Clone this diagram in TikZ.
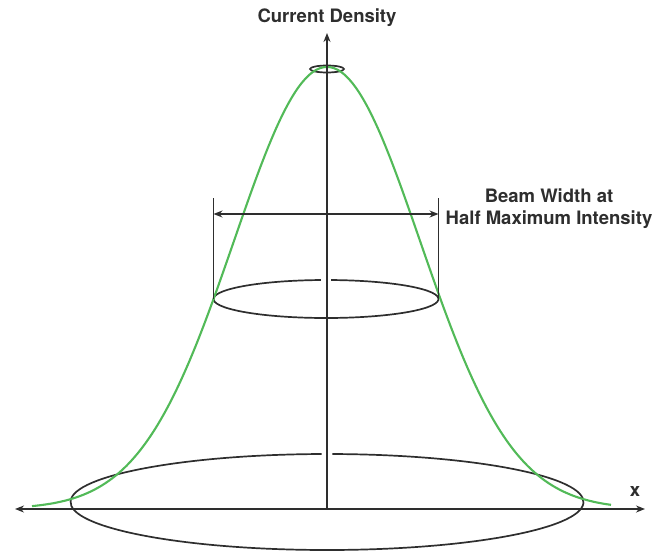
\documentclass[tikz,border=0pt]{standalone}
\usepackage{fontspec}
\setmainfont{TeX Gyre Heros}
\usetikzlibrary{arrows.meta,calc}
\definecolor{beamgreen}{HTML}{52BA58}
\definecolor{inkgray}{HTML}{2E2E2E}

\begin{document}
\begin{tikzpicture}[x=1pt, y=-1pt,
  axis/.style={draw=inkgray, line width=1.4pt},
  rim/.style={draw=inkgray, line width=1.7pt},
  beam/.style={draw=beamgreen, line width=2.1pt},
  tip/.style={-{Stealth[length=9pt, width=7pt]}},
  lab/.style={font=\fontsize{18.5}{22}\selectfont\bfseries, text=inkgray,
    inner sep=0pt, align=center}]
\useasboundingbox (0,0) rectangle (663,551);
% ---------------- axes ----------------
\coordinate (O) at (327,509);
\coordinate (ytip) at (327,33);
\coordinate (xl) at (15,509);
\coordinate (xr) at (645,509);
\node[lab] (ylab) at (327,18) {Current Density};
\node[lab] (xlab) at (635,491) {x};
% ---------------- cross sections ----------------
% back edge of each ring is broken where the axis passes
\coordinate (topc) at (327,69);
\coordinate (midc) at (326,299);
\coordinate (lowc) at (327,502);
\draw[rim] (topc) ellipse[x radius=17, y radius=3.5];
\draw[rim] ($(midc)+(272.6:112.5 and 19)$)
  arc[start angle=272.6, end angle=627.4, x radius=112.5, y radius=19];
\draw[rim] ($(lowc)+(271.2:256.5 and 48)$)
  arc[start angle=271.2, end angle=628.8, x radius=256.5, y radius=48];
% ---------------- beam profile ----------------
\draw[beam] plot[domain=-295:284, samples=160, smooth]
  ({327+\x},{509-442*exp(-0.5*(\x/93)^2)});
\draw[axis, tip] (O) -- (ytip);
\draw[axis, {Stealth[length=9pt, width=7pt]}-{Stealth[length=9pt, width=7pt]}]
  (xl) -- (xr);
% ---------------- beam width ----------------
\coordinate (wlt) at (213.5,198);
\coordinate (wlb) at (213.5,299);
\coordinate (wrt) at (438.5,198);
\coordinate (wrb) at (438.5,299);
\coordinate (wla) at (213.5,214);
\coordinate (wra) at (438.5,214);
\draw[axis, line width=1pt] (wlt) -- (wlb);
\draw[axis, line width=1pt] (wrt) -- (wrb);
\draw[axis, {Stealth[length=9pt, width=7pt]}-{Stealth[length=9pt, width=7pt]}]
  (wla) -- (wra);
\node[lab] (wlab) at (549,209) {Beam Width at\\Half Maximum Intensity};
\end{tikzpicture}
\end{document}
